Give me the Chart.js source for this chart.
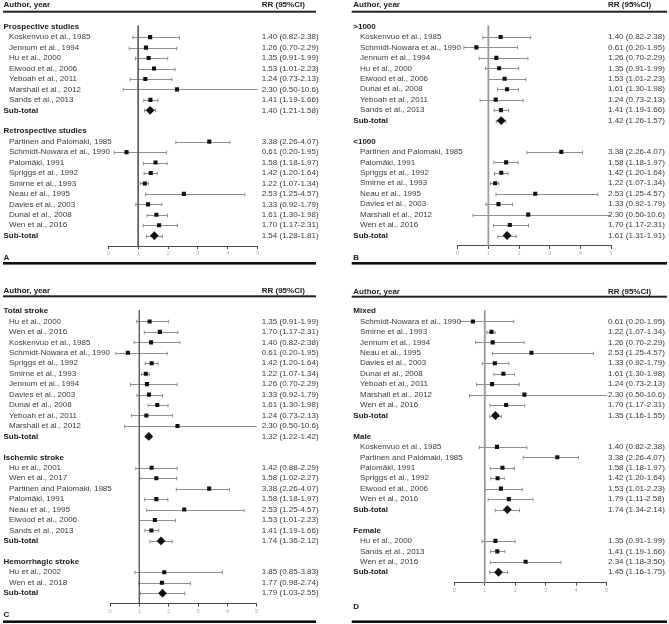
<!DOCTYPE html>
<html><head><meta charset="utf-8">
<script src="https://cdn.jsdelivr.net/npm/chart.js@4.4.1/dist/chart.umd.min.js"></script>
<style>
html,body{margin:0;padding:0;background:#fff;width:669px;height:624px;overflow:hidden}
canvas{position:absolute}
</style></head><body>
<canvas id="cA"></canvas><canvas id="cB"></canvas><canvas id="cC"></canvas><canvas id="cD"></canvas>
<script>
// ---------- DATA ----------
const xTicks = [0, 1, 2, 3, 4, 5];

const labelsA = ['Prospective studies','Koskenvuo et al., 1985','Jennum et al., 1994','Hu et al., 2000','Elwood et al., 2006','Yeboah et al., 2011','Marshall et al., 2012','Sands et al., 2013','Sub-total','',
  'Retrospective studies','Partinen and Palomaki, 1985','Schmidt-Nowara et al., 1990','Palomäki, 1991','Spriggs et al., 1992','Smirne et al., 1993','Neau et al., 1995','Davies et al., 2003','Dunai et al., 2008','Wen et al., 2016','Sub-total'];
const rrA   = [null,1.40,1.26,1.35,1.53,1.24,2.30,1.41,1.40,null, null,3.38,0.61,1.58,1.42,1.22,2.53,1.33,1.61,1.70,1.54];
const lowA  = [null,0.82,0.70,0.91,1.01,0.73,0.50,1.19,1.21,null, null,2.26,0.20,1.18,1.20,1.07,1.25,0.92,1.30,1.17,1.28];
const highA = [null,2.38,2.29,1.99,2.23,2.13,10.6,1.66,1.58,null, null,4.07,1.95,1.97,1.64,1.34,4.57,1.79,1.98,2.31,1.81];

const labelsB = ['>1000','Koskenvuo et al., 1985','Schmidt-Nowara et al., 1990','Jennum et al., 1994','Hu et al., 2000','Elwood et al., 2006','Dunai et al., 2008','Yeboah et al., 2011','Sands et al., 2013','Sub-total','',
  '<1000','Partinen and Palomaki, 1985','Palomäki, 1991','Spriggs et al., 1992','Smirne et al., 1993','Neau et al., 1995','Davies et al., 2003','Marshall et al., 2012','Wen et al., 2016','Sub-total'];
const rrB   = [null,1.40,0.61,1.26,1.35,1.53,1.61,1.24,1.41,1.42,null, null,3.38,1.58,1.42,1.22,2.53,1.33,2.30,1.70,1.61];
const lowB  = [null,0.82,0.20,0.70,0.91,1.01,1.30,0.73,1.19,1.26,null, null,2.26,1.18,1.20,1.07,1.25,0.92,0.50,1.17,1.31];
const highB = [null,2.38,1.95,2.29,1.99,2.23,1.98,2.13,1.66,1.57,null, null,4.07,1.97,1.64,1.34,4.57,1.79,10.6,2.31,1.91];

const labelsC = ['Total stroke','Hu et al., 2000','Wen et al., 2016','Koskenvuo et al., 1985','Schmidt-Nowara et al., 1990','Spriggs et al., 1992','Smirne et al., 1993','Jennum et al., 1994','Davies et al., 2003','Dunai et al., 2008','Yeboah et al., 2011','Marshall et al., 2012','Sub-total','',
  'Ischemic stroke','Hu et al., 2001','Wen et al., 2017','Partinen and Palomaki, 1985','Palomäki, 1991','Neau et al., 1995','Elwood et al., 2006','Sands et al., 2013','Sub-total','',
  'Hemorrhagic stroke','Hu et al., 2002','Wen et al., 2018','Sub-total'];
const rrC   = [null,1.35,1.70,1.40,0.61,1.42,1.22,1.26,1.33,1.61,1.24,2.30,1.32,null, null,1.42,1.58,3.38,1.58,2.53,1.53,1.41,1.74,null, null,1.85,1.77,1.79];
const lowC  = [null,0.91,1.17,0.82,0.20,1.20,1.07,0.70,0.92,1.30,0.73,0.50,1.22,null, null,0.88,1.02,2.26,1.18,1.25,1.01,1.19,1.36,null, null,0.85,0.98,1.03];
const highC = [null,1.99,2.31,2.38,1.95,1.64,1.34,2.29,1.79,1.98,2.13,10.6,1.42,null, null,2.29,2.27,4.07,1.97,4.57,2.23,1.66,2.12,null, null,3.83,2.74,2.55];

const labelsD = ['Mixed','Schmidt-Nowara et al., 1990','Smirne et al., 1993','Jennum et al., 1994','Neau et al., 1995','Davies et al., 2003','Dunai et al., 2008','Yeboah et al., 2011','Marshall et al., 2012','Wen et al., 2016','Sub-total','',
  'Male','Koskenvuo et al., 1985','Partinen and Palomaki, 1985','Palomäki, 1991','Spriggs et al., 1992','Elwood et al., 2006','Wen et al., 2016','Sub-total','',
  'Female','Hu et al., 2000','Sands et al., 2013','Wen et al., 2016','Sub-total'];
const rrD   = [null,0.61,1.22,1.26,2.53,1.33,1.61,1.24,2.30,1.70,1.35,null, null,1.40,3.38,1.58,1.42,1.53,1.79,1.74,null, null,1.35,1.41,2.34,1.45];
const lowD  = [null,0.20,1.07,0.70,1.25,0.92,1.30,0.73,0.50,1.17,1.16,null, null,0.82,2.26,1.18,1.20,1.01,1.11,1.34,null, null,0.91,1.19,1.18,1.16];
const highD = [null,1.95,1.34,2.29,4.57,1.79,1.98,2.13,10.6,2.31,1.55,null, null,2.38,4.07,1.97,1.64,2.23,2.58,2.14,null, null,1.99,1.66,3.50,1.75];

// ---------- LAYOUT ----------
const FAM = '"Liberation Sans", Arial, Helvetica, sans-serif';
const STEP = 10.45;
const panels = [
  {id:'cA', name:'A', labels:labelsA, rr:rrA, low:lowA, high:highA, left:0, top:0, w:335, h:265,
   px0:108.3, px5:257.7, row0:26.7, groupX:3.5, studyX:9, valueX:261.7, headY:5, headLineY:11.7, lineX1:3, lineX2:316,
   panelY:257.3, bottomY:263.3, refColor:'#5a5a5a', refW:1},
  {id:'cB', name:'B', labels:labelsB, rr:rrB, low:lowB, high:highB, left:335, top:0, w:334, h:265,
   px0:457.7, px5:611, row0:26.5, groupX:353.3, studyX:360, valueX:608, headY:5, headLineY:11.7, lineX1:351.7, lineX2:667,
   panelY:257.3, bottomY:263.3, refColor:'#9a9a9a', refW:1.8},
  {id:'cC', name:'C', labels:labelsC, rr:rrC, low:lowC, high:highC, left:0, top:265, w:335, h:359,
   px0:110, px5:256.7, row0:311, groupX:3.5, studyX:9, valueX:261.7, headY:291, headLineY:296.3, lineX1:3, lineX2:316,
   panelY:615, bottomY:621.7, refColor:'#5a5a5a', refW:1},
  {id:'cD', name:'D', labels:labelsD, rr:rrD, low:lowD, high:highD, left:335, top:265, w:334, h:359,
   px0:454.3, px5:606.7, row0:311, groupX:353.3, studyX:360, valueX:608, headY:291.7, headLineY:296.7, lineX1:351.7, lineX2:667,
   panelY:606.7, bottomY:621.7, refColor:'#9a9a9a', refW:1.8}
];

const fmt = v => v >= 10 ? v.toFixed(1) : v.toFixed(2);

const forestPlugin = {
  id: 'forest',
  beforeDatasetsDraw(chart) {
    const p = chart.options.plugins.forest.panel;
    const xs = chart.scales.x, ys = chart.scales.y, ctx = chart.ctx;
    ctx.save();
    ctx.strokeStyle = '#8e8e8e';
    ctx.lineWidth = 1;
    p.rr.forEach((v, i) => {
      if (v == null) return;
      const lo = p.low[i], hi = p.high[i];
      const y = Math.round(ys.getPixelForValue(i)) + 0.5;
      const x1 = xs.getPixelForValue(Math.max(lo, xs.min));
      const x2 = xs.getPixelForValue(Math.min(hi, xs.max));
      ctx.beginPath();
      ctx.moveTo(x1, y); ctx.lineTo(x2, y);
      if (lo >= xs.min) { ctx.moveTo(x1, y - 1.8); ctx.lineTo(x1, y + 1.8); }
      if (hi <= xs.max) { ctx.moveTo(x2, y - 1.8); ctx.lineTo(x2, y + 1.8); }
      ctx.stroke();
    });
    ctx.restore();
  },
  afterDraw(chart) {
    const p = chart.options.plugins.forest.panel;
    const ys = chart.scales.y, ctx = chart.ctx;
    const L = p.left, T = p.top;
    ctx.save();
    ctx.textBaseline = 'middle';
    ctx.textAlign = 'left';
    ctx.fillStyle = '#1a1a1a';
    ctx.font = 'bold 8px ' + FAM;
    ctx.fillText('Author, year', p.groupX - L, p.headY - T);
    ctx.fillText('RR (95%CI)', p.valueX - L, p.headY - T);
    ctx.fillStyle = '#222';
    ctx.fillRect(p.lineX1 - L, p.headLineY - T - 1, p.lineX2 - p.lineX1, 2);
    p.labels.forEach((lab, i) => {
      if (!lab) return;
      const y = ys.getPixelForValue(i);
      const v = p.rr[i];
      if (v == null || lab === 'Sub-total') {
        ctx.font = 'bold 8px ' + FAM;
        ctx.fillStyle = '#1a1a1a';
        ctx.fillText(lab, p.groupX - L, y);
      } else {
        ctx.font = '8px ' + FAM;
        ctx.fillStyle = '#3a3a3a';
        ctx.fillText(lab, p.studyX - L, y);
      }
      if (v != null) {
        ctx.font = '8px ' + FAM;
        ctx.fillStyle = '#3a3a3a';
        ctx.fillText(fmt(v) + ' (' + fmt(p.low[i]) + '-' + fmt(p.high[i]) + ')', p.valueX - L, y);
      }
    });
    ctx.font = 'bold 8px ' + FAM;
    ctx.fillStyle = '#1a1a1a';
    ctx.fillText(p.name, p.groupX - L, p.panelY - T);
    ctx.fillStyle = '#111';
    ctx.fillRect(p.lineX1 - L, p.bottomY - T - 1.3, p.lineX2 - p.lineX1, 2.6);
    ctx.restore();
  }
};

panels.forEach(p => {
  const cv = document.getElementById(p.id);
  cv.style.left = p.left + 'px';
  cv.style.top = p.top + 'px';
  cv.style.width = p.w + 'px';
  cv.style.height = p.h + 'px';
  cv.width = p.w; cv.height = p.h;
  const axisRow = p.labels.length;
  const row0Rel = p.row0 - p.top;
  const padTop = row0Rel - STEP;
  const bottomRel = row0Rel + axisRow * STEP;
  const axisH = p.h - bottomRel;

  const studies = [], subs = [];
  p.rr.forEach((v, i) => {
    if (v == null) return;
    (p.labels[i] === 'Sub-total' ? subs : studies).push({x: v, y: i});
  });

  new Chart(cv, {
    type: 'scatter',
    data: {
      datasets: [
        {type:'line', data:[{x:1, y:-0.1}, {x:1, y:axisRow}], borderColor:p.refColor, borderWidth:p.refW,
         pointRadius:0, fill:false, order:3},
        {data: studies, pointStyle:'rect', radius:2.9, backgroundColor:'#111', borderColor:'#111', borderWidth:0, order:1},
        {data: subs, pointStyle:'rectRot', radius:4.4, backgroundColor:'#111', borderColor:'#111', borderWidth:0, order:0}
      ]
    },
    options: {
      responsive: false,
      animation: false,
      events: [],
      layout: { padding: { left: p.px0 - p.left, right: p.left + p.w - p.px5, top: padTop, bottom: 0 } },
      plugins: { legend: {display:false}, tooltip: {enabled:false}, forest: { panel: p } },
      scales: {
        x: {
          type: 'linear', min: 0, max: 5, position: 'bottom',
          afterBuildTicks: s => { s.ticks = xTicks.map(v => ({value: v})); },
          afterFit: s => { s.height = axisH; },
          border: { display: true, color: '#4a4a4a', width: 1 },
          grid: { display: true, drawOnChartArea: false, drawTicks: true, tickLength: 3, color: '#4a4a4a' },
          ticks: { color: '#b3b3b3', font: { size: 6, family: FAM }, padding: 1, maxRotation: 0, autoSkip: false }
        },
        y: { type: 'linear', display: false, min: -1, max: axisRow, reverse: true }
      }
    },
    plugins: [forestPlugin]
  });
});
</script>
</body></html>
